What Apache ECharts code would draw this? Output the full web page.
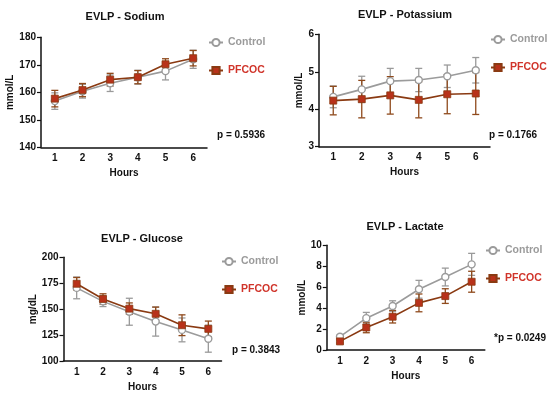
<!DOCTYPE html>
<html>
<head>
<meta charset="utf-8">
<script src="https://cdn.jsdelivr.net/npm/echarts@6/dist/echarts.min.js"></script>
<style>html,body{margin:0;padding:0;background:#fff}#c{width:550px;height:396px}</style>
</head>
<body>
<div id="c"></div>
<script>
const hours = ['1', '2', '3', '4', '5', '6'];

const sodiumControl = [156.8, 160.4, 163.3, 165.5, 167.7, 172.0];
const sodiumControlSD = [3.0, 2.5, 3.0, 2.5, 3.2, 3.3];
const sodiumPFCOC = [157.7, 160.8, 164.6, 165.5, 170.2, 172.4];
const sodiumPFCOCSD = [3.0, 2.4, 2.3, 2.4, 2.0, 2.8];

const potassiumControl = [4.33, 4.53, 4.75, 4.78, 4.88, 5.04];
const potassiumControlSD = [0.29, 0.35, 0.34, 0.31, 0.30, 0.34];
const potassiumPFCOC = [4.23, 4.27, 4.37, 4.25, 4.40, 4.42];
const potassiumPFCOCSD = [0.38, 0.50, 0.50, 0.48, 0.52, 0.56];

const glucoseControl = [170.5, 157.5, 147.5, 138.0, 130.0, 121.5];
const glucoseControlSD = [10.5, 5.0, 13.0, 14.0, 11.5, 13.0];
const glucosePFCOC = [174.5, 159.8, 150.5, 145.5, 134.5, 131.0];
const glucosePFCOCSD = [6.0, 5.0, 5.5, 6.5, 10.0, 7.5];

const lactateControl = [1.27, 3.04, 4.20, 5.80, 6.97, 8.18];
const lactateControlSD = [0.15, 0.55, 0.50, 0.85, 0.85, 1.05];
const lactatePFCOC = [0.82, 2.15, 3.18, 4.50, 5.15, 6.52];
const lactatePFCOCSD = [0.15, 0.50, 0.60, 0.85, 0.70, 1.00];

const panels = [
  {title: 'EVLP - Sodium', unit: 'mmol/L', p: 'p = 0.5936', min: 140, max: 180, interval: 10,
   ctrl: sodiumControl, ctrlSD: sodiumControlSD, pf: sodiumPFCOC, pfSD: sodiumPFCOCSD,
   grid: {left: 41, top: 37.3, width: 166, height: 110}, titleX: 125, titleY: 11,
   legend: {left: 208, top: 37}, pPos: [217, 136], yNameGap: 23},
  {title: 'EVLP - Potassium', unit: 'mmol/L', p: 'p = 0.1766', min: 3, max: 6, interval: 1,
   ctrl: potassiumControl, ctrlSD: potassiumControlSD, pf: potassiumPFCOC, pfSD: potassiumPFCOCSD,
   grid: {left: 319, top: 34.3, width: 171, height: 112.4}, titleX: 405, titleY: 9,
   legend: {left: 490, top: 34}, pPos: [489, 136], yNameGap: 9},
  {title: 'EVLP - Glucose', unit: 'mg/dL', p: 'p = 0.3843', min: 100, max: 200, interval: 25,
   ctrl: glucoseControl, ctrlSD: glucoseControlSD, pf: glucosePFCOC, pfSD: glucosePFCOCSD,
   grid: {left: 63.5, top: 257.3, width: 158, height: 103.7}, titleX: 142, titleY: 233,
   legend: {left: 221, top: 256}, pPos: [232, 351], yNameGap: 22},
  {title: 'EVLP - Lactate', unit: 'mmol/L', p: '*p = 0.0249', min: 0, max: 10, interval: 2,
   ctrl: lactateControl, ctrlSD: lactateControlSD, pf: lactatePFCOC, pfSD: lactatePFCOCSD,
   grid: {left: 326.8, top: 245.3, width: 158, height: 104.7}, titleX: 405, titleY: 221,
   legend: {left: 485, top: 245}, pPos: [494, 339], yNameGap: 17}
];

const FONT = 'Liberation Sans, Arial, sans-serif';
const CTRL = '#9b9b9b';
const PF_LINE = '#8a3a12';
const PF_MARK = '#b8321a';
const PF_TEXT = '#d0342a';

function errSeries(means, sds, idx, color, name) {
  return {
    type: 'custom', name: name, xAxisIndex: idx, yAxisIndex: idx, z: 1, silent: true,
    data: means.map((m, i) => [i, m - sds[i], m + sds[i]]),
    renderItem: function (params, api) {
      const x = api.value(0);
      const p1 = api.coord([x, api.value(2)]);
      const p2 = api.coord([x, api.value(1)]);
      const w = 3.5;
      const st = {stroke: color, lineWidth: 1.3};
      return {type: 'group', children: [
        {type: 'line', shape: {x1: p1[0], y1: p1[1], x2: p2[0], y2: p2[1]}, style: st},
        {type: 'line', shape: {x1: p1[0] - w, y1: p1[1], x2: p1[0] + w, y2: p1[1]}, style: st},
        {type: 'line', shape: {x1: p2[0] - w, y1: p2[1], x2: p2[0] + w, y2: p2[1]}, style: st}
      ]};
    }
  };
}

const option = {
  animation: false,
  backgroundColor: '#fff',
  textStyle: {fontFamily: FONT},
  title: [], grid: [], xAxis: [], yAxis: [], legend: [], series: [], graphic: []
};

panels.forEach((P, i) => {
  option.title.push({text: P.title, left: P.titleX, top: P.titleY, textAlign: 'center', padding: 0,
    textStyle: {fontFamily: FONT, fontSize: 11, fontWeight: 'bold', color: '#111'}});
  option.grid.push(Object.assign({containLabel: false}, P.grid));
  option.xAxis.push({type: 'category', gridIndex: i, data: hours, boundaryGap: true,
    name: 'Hours', nameLocation: 'middle', nameGap: 21,
    nameTextStyle: {fontFamily: FONT, fontSize: 10, fontWeight: 'bold', color: '#111'},
    axisLine: {lineStyle: {color: '#111', width: 1.5}},
    axisTick: {alignWithLabel: true, length: 4, lineStyle: {color: '#111', width: 1.2}},
    axisLabel: {fontFamily: FONT, fontSize: 10, fontWeight: 'bold', color: '#111', margin: 6},
    splitLine: {show: false}});
  option.yAxis.push({type: 'value', gridIndex: i, min: P.min, max: P.max, interval: P.interval,
    name: P.unit, nameLocation: 'middle', nameGap: P.yNameGap, nameRotate: 90,
    nameTextStyle: {fontFamily: FONT, fontSize: 10, fontWeight: 'bold', color: '#111'},
    axisLine: {show: true, lineStyle: {color: '#111', width: 1.5}},
    axisTick: {show: true, length: 4, lineStyle: {color: '#111', width: 1.2}},
    axisLabel: {fontFamily: FONT, fontSize: 10, fontWeight: 'bold', color: '#111', margin: 5},
    splitLine: {show: false}});
  option.legend.push({left: P.legend.left, top: P.legend.top, orient: 'vertical', itemGap: 17,
    itemWidth: 14, itemHeight: 9, padding: 0, selectedMode: false,
    textStyle: {fontFamily: FONT, fontSize: 10.5, fontWeight: 'bold'},
    data: [{name: 'Control', textStyle: {color: CTRL}}, {name: 'PFCOC', textStyle: {color: PF_TEXT}}]});
  option.series.push(errSeries(P.ctrl, P.ctrlSD, i, '#9a9a9a', 'ctrlErr' + i));
  option.series.push(errSeries(P.pf, P.pfSD, i, '#8f4a1c', 'pfErr' + i));
  option.series.push({type: 'line', name: 'Control', xAxisIndex: i, yAxisIndex: i, z: 3,
    data: P.ctrl, symbol: 'circle', symbolSize: 7,
    lineStyle: {color: CTRL, width: 1.6},
    itemStyle: {color: '#fff', borderColor: CTRL, borderWidth: 1.4}});
  option.series.push({type: 'line', name: 'PFCOC', xAxisIndex: i, yAxisIndex: i, z: 4,
    data: P.pf, symbol: 'rect', symbolSize: 7,
    lineStyle: {color: PF_LINE, width: 1.6},
    itemStyle: {color: PF_MARK, borderColor: PF_LINE, borderWidth: 0.8}});
  option.graphic.push({type: 'text', left: P.pPos[0], top: P.pPos[1] - 6,
    style: {text: P.p, fontFamily: FONT, fontSize: 10, fontWeight: 'bold', fill: '#111'}});
});

const chart = echarts.init(document.getElementById('c'), null, {renderer: 'canvas'});
chart.setOption(option);
</script>
</body>
</html>
